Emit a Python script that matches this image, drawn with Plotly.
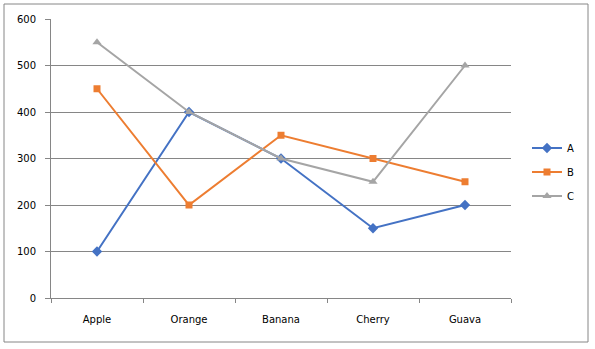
import plotly.graph_objects as go

categories = ["Apple", "Orange", "Banana", "Cherry", "Guava"]
series_a = [100, 400, 300, 150, 200]
series_b = [450, 200, 350, 300, 250]
series_c = [550, 400, 300, 250, 500]
y_ticks = [0, 100, 200, 300, 400, 500, 600]

fig = go.Figure()
styles = [
    ("A", series_a, "#4472C4", "diamond", 8),
    ("B", series_b, "#ED7D31", "square", 7),
    ("C", series_c, "#A5A5A5", "triangle-up", 8),
]
for name, vals, color, symbol, size in styles:
    fig.add_trace(go.Scatter(
        x=categories, y=vals, name=name, mode="lines+markers",
        legendgroup=name,
        line=dict(color=color, width=2),
        marker=dict(symbol=symbol, size=size, color=color),
    ))

# plot area spans pixels x 51..511, y 19..298
L, R, T, B = 51, 511, 19, 298
W, H = R - L, B - T

def px_x(p):
    return (p - L) / W

def px_y(p):
    return (B - p) / H

FONT = "DejaVu Sans, Verdana, sans-serif"

fig.update_layout(
    width=595, height=349,
    margin=dict(l=L, r=595 - R, t=T, b=349 - B),
    paper_bgcolor="white", plot_bgcolor="white",
    font=dict(family=FONT, size=10, color="#000000"),
    showlegend=True,
    legend=dict(x=px_x(527), y=px_y(172), xanchor="left", yanchor="middle",
                bgcolor="rgba(0,0,0,0)", font=dict(size=10),
                tracegroupgap=5, itemwidth=30),
    xaxis=dict(
        type="category", range=[-0.5, 4.5], showgrid=False,
        showline=True, linecolor="#868686", linewidth=1,
        ticks="outside", tickson="boundaries", ticklen=4, tickcolor="#868686",
        ticklabelstandoff=12, fixedrange=True,
    ),
    yaxis=dict(
        range=[0, 600], tickvals=y_ticks, showgrid=True, gridcolor="#868686",
        gridwidth=1, showline=True, linecolor="#868686", linewidth=1,
        ticks="outside", ticklen=5, tickcolor="#868686", zeroline=False,
        ticklabelstandoff=7, fixedrange=True,
    ),
    shapes=[dict(
        type="rect", xref="paper", yref="paper",
        x0=px_x(4), x1=px_x(588), y0=px_y(342), y1=px_y(4),
        line=dict(color="#868686", width=1), fillcolor="rgba(0,0,0,0)",
    )],
)

fig.write_html("out.html")
